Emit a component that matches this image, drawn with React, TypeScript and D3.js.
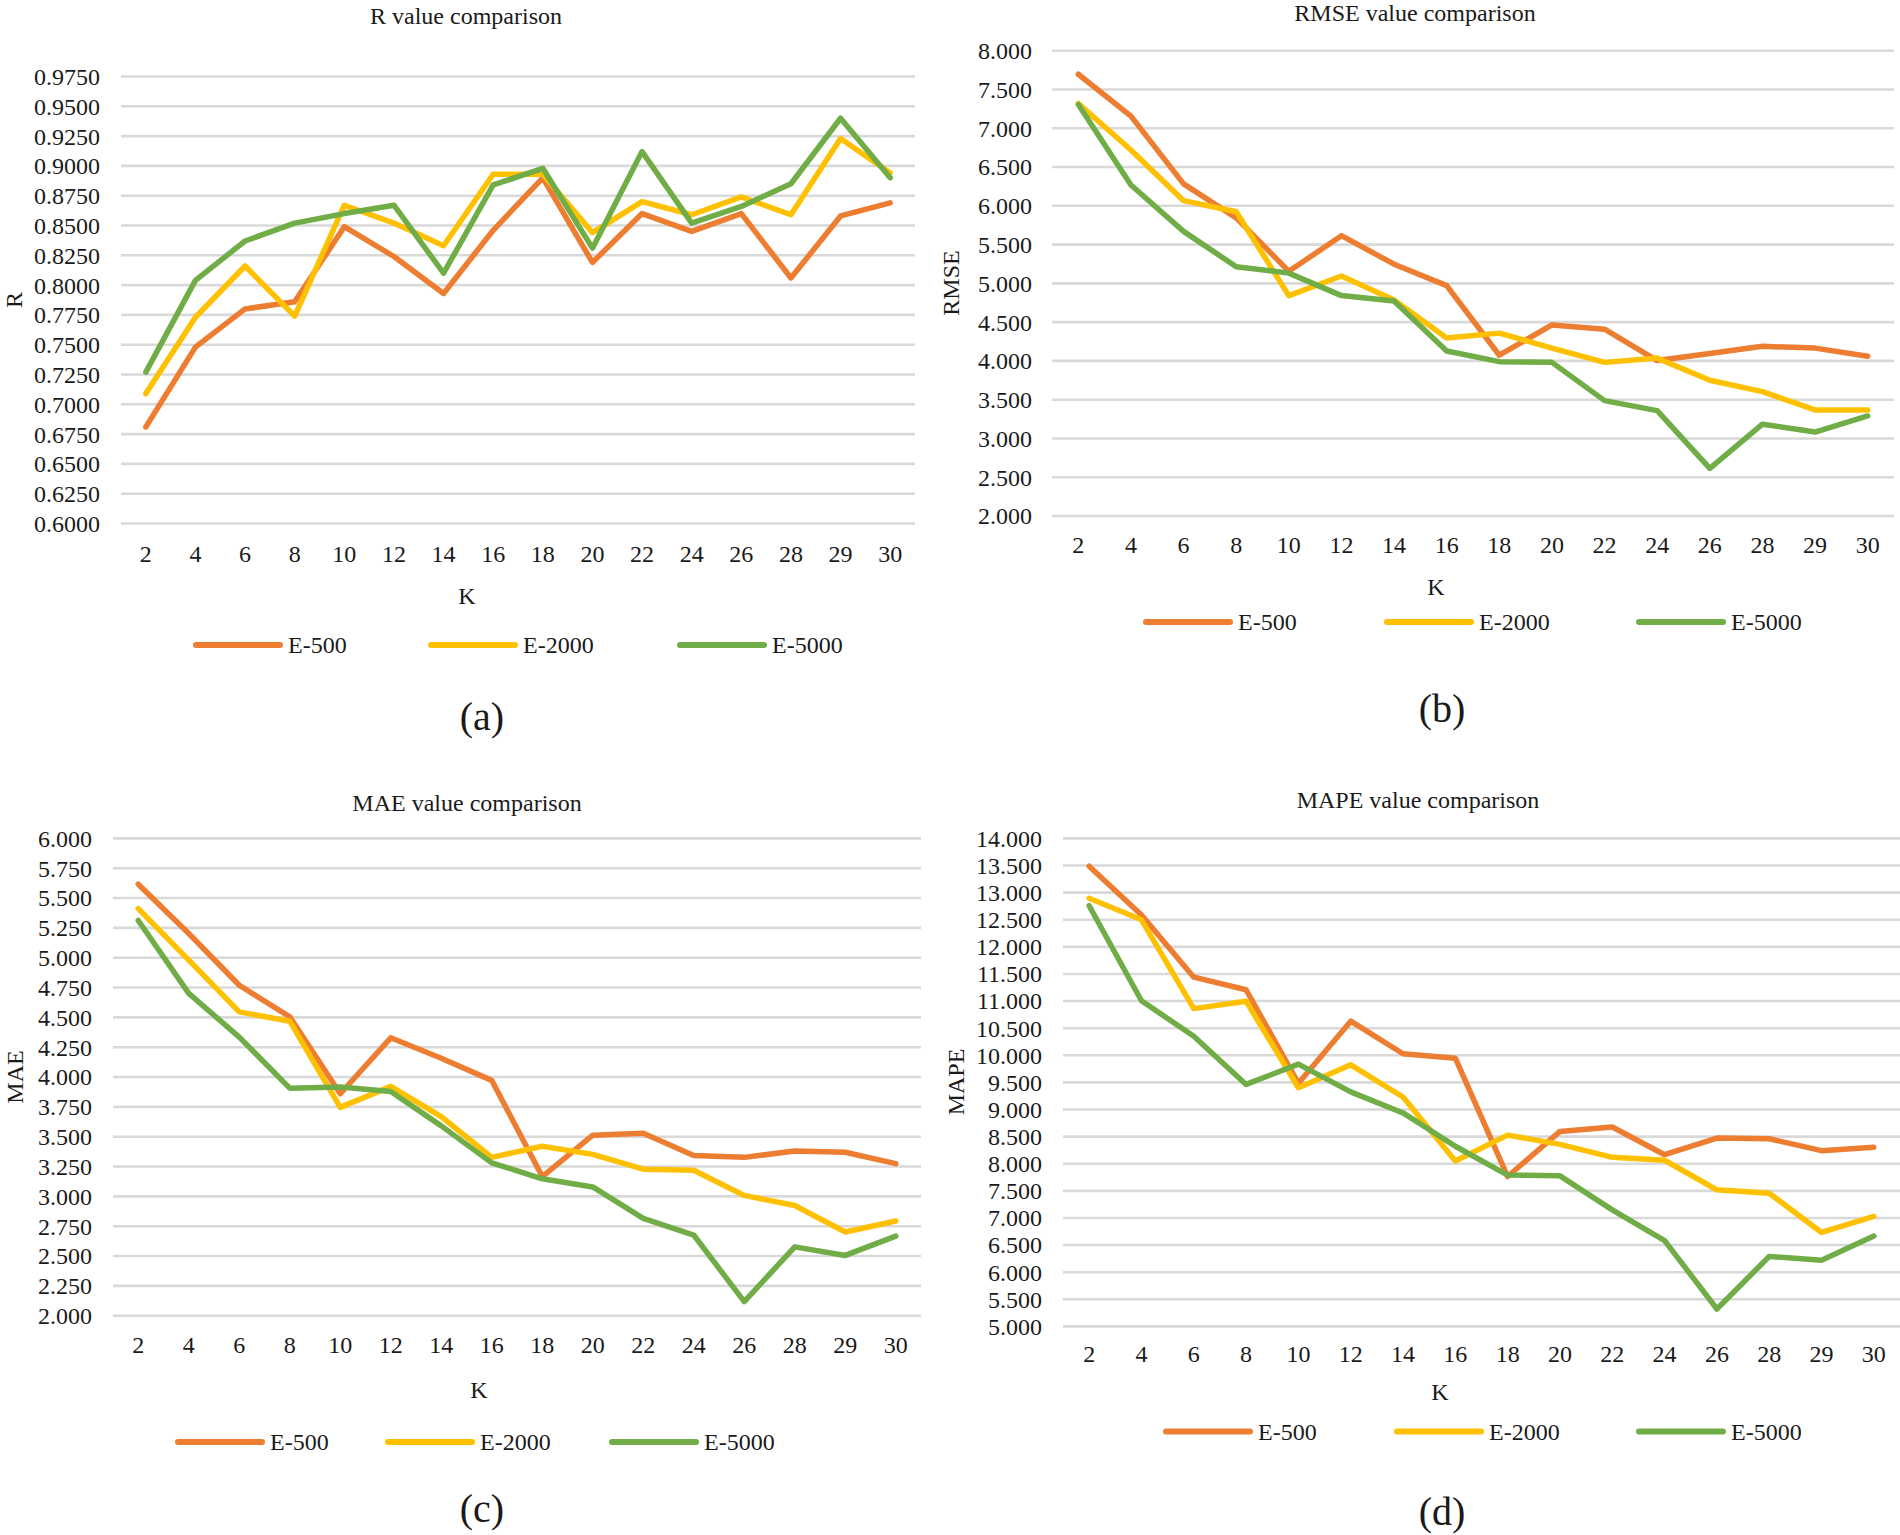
import * as d3 from "d3"

// K values on the x axis (29 really does come before 30)
const kLabels = ["2", "4", "6", "8", "10", "12", "14", "16", "18", "20", "22", "24", "26", "28", "29", "30"]
const seriesNames = ["E-500", "E-2000", "E-5000"]

const rE500 = [0.681, 0.748, 0.780, 0.786, 0.849, 0.824, 0.793, 0.846, 0.890, 0.819, 0.860, 0.845, 0.860, 0.806, 0.858, 0.869]
const rE2000 = [0.709, 0.773, 0.816, 0.774, 0.867, 0.852, 0.833, 0.893, 0.893, 0.844, 0.870, 0.859, 0.874, 0.859, 0.923, 0.894]
const rE5000 = [0.727, 0.804, 0.837, 0.852, 0.860, 0.867, 0.810, 0.884, 0.898, 0.831, 0.912, 0.852, 0.866, 0.885, 0.940, 0.890]

const rmseE500 = [7.696, 7.157, 6.283, 5.845, 5.155, 5.615, 5.247, 4.971, 4.073, 4.464, 4.409, 4.004, 4.096, 4.188, 4.165, 4.059]
const rmseE2000 = [7.319, 6.720, 6.066, 5.924, 4.842, 5.095, 4.786, 4.294, 4.358, 4.165, 3.981, 4.036, 3.750, 3.603, 3.368, 3.368]
const rmseE5000 = [7.305, 6.269, 5.670, 5.215, 5.132, 4.842, 4.773, 4.128, 3.990, 3.981, 3.488, 3.359, 2.613, 3.184, 3.083, 3.290]

const maeE500 = [5.616, 5.203, 4.769, 4.505, 3.860, 4.329, 4.158, 3.972, 3.166, 3.513, 3.529, 3.343, 3.327, 3.380, 3.370, 3.274]
const maeE2000 = [5.411, 4.980, 4.546, 4.468, 3.746, 3.922, 3.668, 3.327, 3.420, 3.352, 3.228, 3.219, 3.008, 2.924, 2.701, 2.794]
const maeE5000 = [5.312, 4.701, 4.335, 3.907, 3.916, 3.879, 3.591, 3.281, 3.147, 3.079, 2.816, 2.676, 2.118, 2.577, 2.505, 2.667]

const mapeE500 = [13.488, 12.588, 11.441, 11.209, 9.483, 10.629, 10.029, 9.947, 7.764, 8.596, 8.678, 8.166, 8.473, 8.460, 8.241, 8.303]
const mapeE2000 = [12.895, 12.499, 10.861, 10.998, 9.401, 9.824, 9.231, 8.050, 8.528, 8.357, 8.118, 8.064, 7.518, 7.457, 6.733, 7.027]
const mapeE5000 = [12.758, 11.005, 10.350, 9.463, 9.838, 9.326, 8.937, 8.323, 7.791, 7.777, 7.150, 6.583, 5.321, 6.290, 6.222, 6.665]

// y axis: [min, max, step, decimals]
const rAxis = [0.6, 0.975, 0.025, 4]
const rmseAxis = [2, 8, 0.5, 3]
const maeAxis = [2, 6, 0.25, 3]
const mapeAxis = [5, 14, 0.5, 3]

const colors = ["#ED7D31", "#FFC000", "#70AD47"]
const font = "'Liberation Serif', 'Times New Roman', serif"
const textColor = "#1a1a1a"

interface PanelProps {
  title: string
  yName: string
  caption: string
  series: number[][]
  axis: number[]
  gx: [number, number]
  gy: [number, number]
  tickRight: number
  xLabelY: number
  titlePos: [number, number]
  yNamePos: [number, number]
  kPos: [number, number]
  legendY: number
  legendX: number[]
  captionPos: [number, number]
}

function Panel(p: PanelProps) {
  const [lo, hi, step, dec] = p.axis
  const x = d3.scalePoint<string>().domain(kLabels).range(p.gx).padding(0.5)
  const y = d3.scaleLinear().domain([lo, hi]).range(p.gy)
  const ticks = d3.range(lo, hi + step / 2, step)
  const fmt = d3.format(`.${dec}f`)

  const line = d3.line<number>()
    .x((_, i) => x(kLabels[i])!)
    .y(d => y(d))

  return (
    <g fontFamily={font} fill={textColor}>
      <text x={p.titlePos[0]} y={p.titlePos[1]} textAnchor="middle" fontSize={24}>{p.title}</text>

      {ticks.map(t => (
        <g key={t}>
          <line x1={p.gx[0]} x2={p.gx[1]} y1={y(t)} y2={y(t)} stroke="#D9D9D9" strokeWidth={2.6} />
          <text x={p.tickRight} y={y(t)} dy="0.35em" textAnchor="end" fontSize={24}>{fmt(t)}</text>
        </g>
      ))}

      {kLabels.map(k => (
        <text key={k} x={x(k)} y={p.xLabelY} textAnchor="middle" fontSize={24}>{k}</text>
      ))}

      {p.series.map((s, i) => (
        <path key={i} d={line(s)!} fill="none" stroke={colors[i]} strokeWidth={5.5}
          strokeLinejoin="round" strokeLinecap="round" />
      ))}

      <text transform={`translate(${p.yNamePos[0]},${p.yNamePos[1]}) rotate(-90)`} dy="0.35em"
        textAnchor="middle" fontSize={24}>{p.yName}</text>
      <text x={p.kPos[0]} y={p.kPos[1]} textAnchor="middle" fontSize={24}>K</text>

      {seriesNames.map((n, i) => (
        <g key={n}>
          <line x1={p.legendX[i]} x2={p.legendX[i] + 84} y1={p.legendY} y2={p.legendY}
            stroke={colors[i]} strokeWidth={6} strokeLinecap="round" />
          <text x={p.legendX[i] + 92} y={p.legendY} dy="0.35em" fontSize={24}>{n}</text>
        </g>
      ))}

      <text x={p.captionPos[0]} y={p.captionPos[1]} textAnchor="middle" fontSize={40}>{p.caption}</text>
    </g>
  )
}

export default function App() {
  return (
    <svg width={1900} height={1535} style={{ position: "absolute", left: 0, top: 0, background: "#fff" }}>
      <Panel title="R value comparison" yName="R" caption="(a)"
        series={[rE500, rE2000, rE5000]} axis={rAxis}
        gx={[121, 915]} gy={[523.5, 76.5]} tickRight={100} xLabelY={562}
        titlePos={[466, 24]} yNamePos={[14, 300]} kPos={[467, 604]}
        legendY={645} legendX={[196, 431, 680]} captionPos={[482, 730]} />
      <Panel title="RMSE value comparison" yName="RMSE" caption="(b)"
        series={[rmseE500, rmseE2000, rmseE5000]} axis={rmseAxis}
        gx={[1052, 1894]} gy={[516, 50.7]} tickRight={1032} xLabelY={553}
        titlePos={[1415, 21]} yNamePos={[951, 283]} kPos={[1436, 595]}
        legendY={622} legendX={[1146, 1387, 1639]} captionPos={[1442, 722]} />
      <Panel title="MAE value comparison" yName="MAE" caption="(c)"
        series={[maeE500, maeE2000, maeE5000]} axis={maeAxis}
        gx={[113, 921]} gy={[1315.7, 838.4]} tickRight={92} xLabelY={1353}
        titlePos={[467, 811]} yNamePos={[15, 1077]} kPos={[479, 1398]}
        legendY={1442} legendX={[178, 388, 612]} captionPos={[482, 1522]} />
      <Panel title="MAPE value comparison" yName="MAPE" caption="(d)"
        series={[mapeE500, mapeE2000, mapeE5000]} axis={mapeAxis}
        gx={[1063, 1900]} gy={[1326.4, 838.4]} tickRight={1042} xLabelY={1362}
        titlePos={[1418, 808]} yNamePos={[956, 1082]} kPos={[1440, 1400]}
        legendY={1431.5} legendX={[1166, 1397, 1639]} captionPos={[1442, 1525]} />
    </svg>
  )
}
